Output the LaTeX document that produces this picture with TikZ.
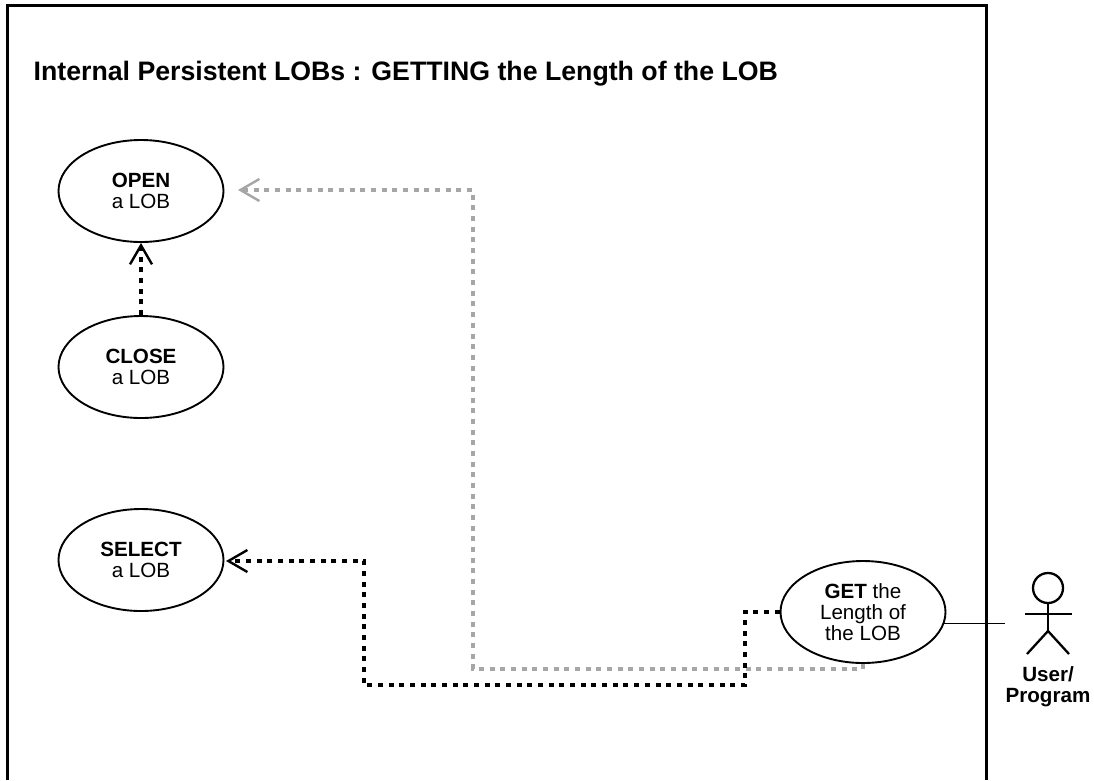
\documentclass[tikz,border=0pt]{standalone}
\usepackage{fontspec}
\usepackage{tikz}
\setmainfont{Liberation Sans}
\usetikzlibrary{arrows.meta,shapes.geometric}

\begin{document}
\begin{tikzpicture}[x=1pt,y=-1pt]
    \tikzstyle{usecase}=[draw,ellipse,line width=1.9pt,minimum width=165pt,minimum height=102pt,inner sep=0pt,align=center,font=\fontsize{20.6}{21}\selectfont]
    \tikzstyle{flow}=[line width=4.2pt,dash pattern=on 5pt off 5.67pt,-{Straight Barb[length=19pt,width=22pt,line width=2.4pt,sep=0pt]}]
    \tikzstyle{actor}=[line width=2.3pt]

    \useasboundingbox (0,0) rectangle (1094,780);

    % Frame, open at the bottom
    \draw[line width=3pt] (7,780) -- (7,5) -- (986,5) -- (986,780);

    \node[font=\fontsize{26.7}{30}\selectfont\bfseries,anchor=base west,inner sep=0pt] (title) at (33.5,80) {Internal Persistent LOBs : GETTING the Length of the LOB};

    \node[usecase] (open) at (141,191) {\textbf{OPEN}\\a LOB};
    \node[usecase] (close) at (141,367) {\textbf{CLOSE}\\a LOB};
    \node[usecase] (select) at (141,560) {\textbf{SELECT}\\a LOB};
    \node[usecase] (get) at (863,612) {\textbf{GET} the\\Length of\\the LOB};

    % Actor
    \node[draw,circle,actor,minimum size=30pt,inner sep=0pt] (head) at (1048,588) {};
    \coordinate (hip) at (1048,631);
    \coordinate (armL) at (1025,614);
    \coordinate (armR) at (1072,614);
    \coordinate (legL) at (1027,654);
    \coordinate (legR) at (1069,654);
    \draw[actor] (head) -- (hip);
    \draw[actor] (armL) -- (armR);
    \draw[actor] (legL) -- (hip) -- (legR);
    \node[font=\fontsize{20.6}{21}\selectfont\bfseries,align=center] (user) at (1048,687) {User/\\Program};

    \coordinate (userEnd) at (1005,623);
    \draw[line width=1.2pt] (get.-8) -- (get.-8 -| userEnd);

    % Grey path first, black one crosses on top
    \coordinate (openEnd) at (238,190);
    \coordinate (greyA) at (863,669);
    \coordinate (greyB) at (473,669);
    \coordinate (greyC) at (473,190);
    \draw[flow,color=black!35] (get.south) -- (greyA) -- (greyB) -- (greyC) -- (openEnd);

    \coordinate (blackA) at (745,612);
    \coordinate (blackB) at (745,685);
    \coordinate (blackC) at (364,685);
    \coordinate (blackD) at (364,561);
    \coordinate (selectEnd) at (226,561);
    \draw[flow] (get.west) -- (blackA) -- (blackB) -- (blackC) -- (blackD) -- (selectEnd);

    \draw[flow] (close.north) -- (open.south);
\end{tikzpicture}
\end{document}
